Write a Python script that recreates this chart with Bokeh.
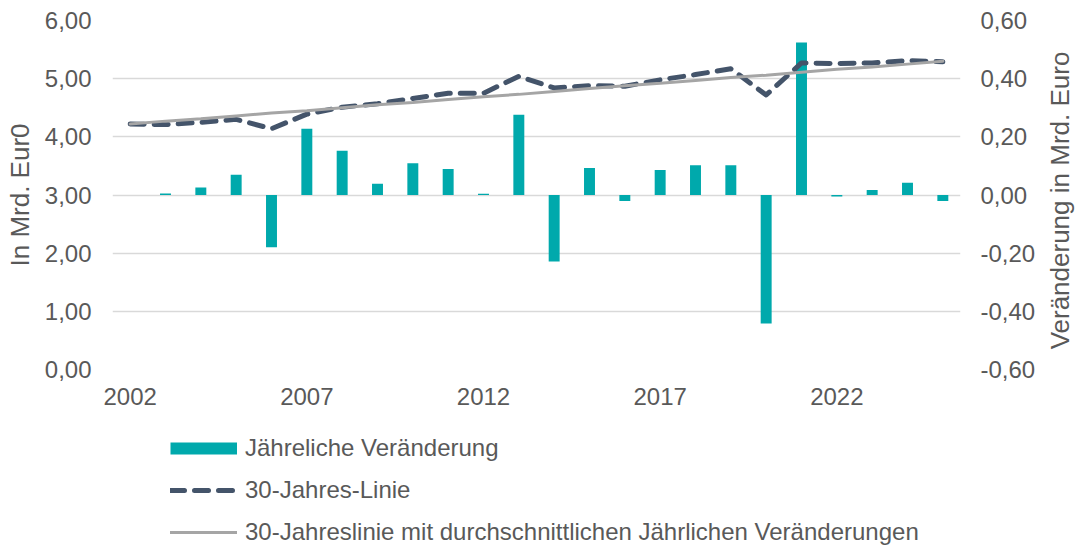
import math
from bokeh.plotting import figure
from bokeh.layouts import column, row
from bokeh.models import (Range1d, LinearAxis, FixedTicker, CustomJSTickFormatter,
                          Legend, LegendItem, Label)
from bokeh.embed import file_html
from bokeh.resources import INLINE

# ---- data ----
years = list(range(2002, 2026))
change = [0.0, 0.005, 0.026, 0.070, -0.180, 0.228, 0.152, 0.039, 0.109, 0.089, 0.004, 0.276,
          -0.229, 0.093, -0.021, 0.086, 0.102, 0.102, -0.442, 0.524, -0.005, 0.017, 0.042, -0.021]
line30 = [4.22, 4.21, 4.25, 4.30, 4.14, 4.39, 4.51, 4.57, 4.66, 4.75, 4.75, 5.04,
          4.84, 4.88, 4.87, 4.98, 5.07, 5.17, 4.72, 5.27, 5.26, 5.27, 5.31, 5.29]
trend = [4.22, 4.27, 4.31, 4.36, 4.41, 4.45, 4.50, 4.55, 4.59, 4.64, 4.69, 4.73,
         4.78, 4.83, 4.88, 4.92, 4.97, 5.02, 5.06, 5.11, 5.16, 5.20, 5.25, 5.30]
x_ticks = [2002, 2007, 2012, 2017, 2022]
left_ticks = [0, 1, 2, 3, 4, 5, 6]
right_ticks = [-0.6, -0.4, -0.2, 0.0, 0.2, 0.4, 0.6]
labels = ["Jähreliche Veränderung", "30-Jahres-Linie",
          "30-Jahreslinie mit durchschnittlichen Jährlichen Veränderungen"]
left_title = "In Mrd. Eur0"
right_title = "Veränderung in Mrd. Euro"

TEAL = "#00A9AC"
DARK = "#44546A"
GRAY = "#A5A5A5"
TXT = "#595959"
GRID = "#D9D9D9"
FONT = "Liberation Sans"

RW = 40  # width of the strip holding the right-hand title

p = figure(width=1078 - RW, height=420, output_backend="svg", toolbar_location=None,
           x_range=Range1d(2001.5, 2025.5), y_range=Range1d(0, 6),
           min_border_left=112, min_border_right=1078 - RW - 960,
           min_border_top=20, min_border_bottom=51)
p.outline_line_color = None
p.extra_y_ranges = {"chg": Range1d(-0.6, 0.6)}

fmt = CustomJSTickFormatter(code="return tick.toFixed(2).replace('.', ',');")


def style_axis(ax, standoff):
    ax.major_tick_line_color = None
    ax.minor_tick_line_color = None
    ax.major_tick_out = 0
    ax.major_tick_in = 0
    ax.minor_tick_out = 0
    ax.minor_tick_in = 0
    ax.axis_line_color = None
    ax.major_label_standoff = standoff
    ax.major_label_text_font = FONT
    ax.major_label_text_font_size = "24px"
    ax.major_label_text_color = TXT
    ax.axis_label_text_font = FONT
    ax.axis_label_text_font_size = "26px"
    ax.axis_label_text_font_style = "normal"
    ax.axis_label_text_color = TXT


# x axis
xa = p.xaxis[0]
xa.ticker = FixedTicker(ticks=x_ticks)
style_axis(xa, 18)
p.xgrid.visible = False

# left axis
ya = p.yaxis[0]
ya.ticker = FixedTicker(ticks=left_ticks)
ya.formatter = fmt
style_axis(ya, 21)
ya.axis_label = left_title
ya.axis_label_standoff = 7
p.ygrid.ticker = FixedTicker(ticks=left_ticks)
p.ygrid.grid_line_color = GRID
p.ygrid.grid_line_width = 1.5

# right axis
ax_r = LinearAxis(y_range_name="chg", ticker=FixedTicker(ticks=right_ticks), formatter=fmt)
style_axis(ax_r, 20)
p.add_layout(ax_r, "right")

# glyphs
p.vbar(x=years, top=change, bottom=0, width=0.31, y_range_name="chg",
       fill_color=TEAL, line_color=None)
r_dash = p.line(x=years, y=line30, line_color=DARK, line_width=5, line_dash="14 10",
                line_cap="round", line_join="round")
r_trend = p.line(x=years, y=trend, line_color=GRAY, line_width=3, line_cap="round")

# strip with the right-hand axis title (reads bottom to top)
r = figure(width=RW, height=420, output_backend="svg", toolbar_location=None,
           x_range=Range1d(0, 1), y_range=Range1d(0, 1),
           x_axis_location=None, y_axis_location=None,
           min_border_left=0, min_border_right=0, min_border_top=20, min_border_bottom=51)
r.outline_line_color = None
r.grid.visible = False
r.add_layout(Label(x=21, y=169, x_units="screen", y_units="screen", text=right_title,
                   angle=math.pi / 2, text_align="center", text_baseline="alphabetic",
                   text_font=FONT, text_font_size="26px", text_color=TXT))

# legend strip
q = figure(width=1078, height=128, output_backend="svg", toolbar_location=None,
           x_range=Range1d(0, 1), y_range=Range1d(0, 1),
           x_axis_location=None, y_axis_location=None,
           min_border_left=112, min_border_right=118, min_border_top=0, min_border_bottom=0)
q.outline_line_color = None
q.grid.visible = False
lg_bar = q.line(x=[-5, -4], y=[-5, -5], line_color=TEAL, line_width=12, line_cap="butt")
lg_dash = q.line(x=[-5, -4], y=[-5, -5], line_color=DARK, line_width=5, line_dash="14 10",
                 line_cap="round")
lg_trend = q.line(x=[-5, -4], y=[-5, -5], line_color=GRAY, line_width=3, line_cap="round")

legend = Legend(items=[LegendItem(label=labels[0], renderers=[lg_bar]),
                       LegendItem(label=labels[1], renderers=[lg_dash]),
                       LegendItem(label=labels[2], renderers=[lg_trend])],
                location=(58, 1), orientation="vertical",
                glyph_width=67, glyph_height=30, label_height=30, spacing=12,
                padding=0, margin=0, border_line_color=None, background_fill_alpha=0,
                label_text_font=FONT, label_text_font_size="24px", label_text_color=TXT,
                label_standoff=8)
q.add_layout(legend)

layout = column(row(p, r, spacing=0), q, spacing=0)
open("out.html", "w").write(file_html(layout, INLINE))
